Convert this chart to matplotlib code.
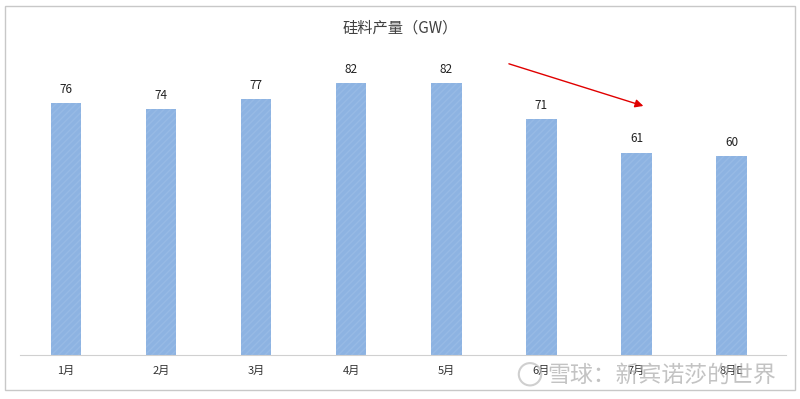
import matplotlib.pyplot as plt
from matplotlib.patches import Rectangle, Ellipse

plt.rcParams['font.family'] = ['Noto Sans CJK SC', 'DejaVu Sans']

months = ['1月', '2月', '3月', '4月', '5月', '6月', '7月', '8月E']
output = [76, 74, 77, 82, 82, 71, 61, 60]

fig = plt.figure(figsize=(8, 3.99), dpi=100)
fig.patches.append(Rectangle((0.006, 0.022), 0.988, 0.963, transform=fig.transFigure,
                             fill=False, edgecolor='#c8c8c8', linewidth=1))

ax = fig.add_axes([0.025, 0.11, 0.957, 0.832])
x = range(len(months))
bars = ax.bar(x, output, width=0.32, color='#8DB3E2', hatch='/////', linewidth=0)
for b in bars:
    b.set_edgecolor('#97BAE5')
for i, v in enumerate(output):
    ax.text(i, v + 2.2, str(v), ha='center', va='bottom', fontsize=8.5, color='#222222')

ax.set_xlim(-0.484, 7.568)
ax.set_ylim(0, 100)
ax.set_xticks(list(x))
ax.set_xticklabels(months, fontsize=8, color='#333333')
ax.tick_params(axis='x', length=0, pad=8)
ax.set_yticks([])
for s in ['top', 'right', 'left']:
    ax.spines[s].set_visible(False)
ax.spines['bottom'].set_color('#d0d0d0')

ax.annotate('', xy=(6.1, 74.8), xytext=(4.63, 88.0),
            arrowprops=dict(arrowstyle='-|>', color='#e00000', lw=1, mutation_scale=12))

fig.text(0.5, 0.93, '硅料产量（GW）', ha='center', va='center', fontsize=11, color='#404040')
# watermark
fig.patches.append(Ellipse((0.6625, 0.062), 0.028, 0.056, transform=fig.transFigure,
                           fill=False, edgecolor='#bbbbbb', linewidth=1.5, alpha=0.7))
fig.text(0.827, 0.06, '雪球：新宾诺莎的世界', ha='center', va='center', fontsize=16.5,
         color='#aaaaaa', alpha=0.7)

fig.savefig('out.png', dpi=100)
